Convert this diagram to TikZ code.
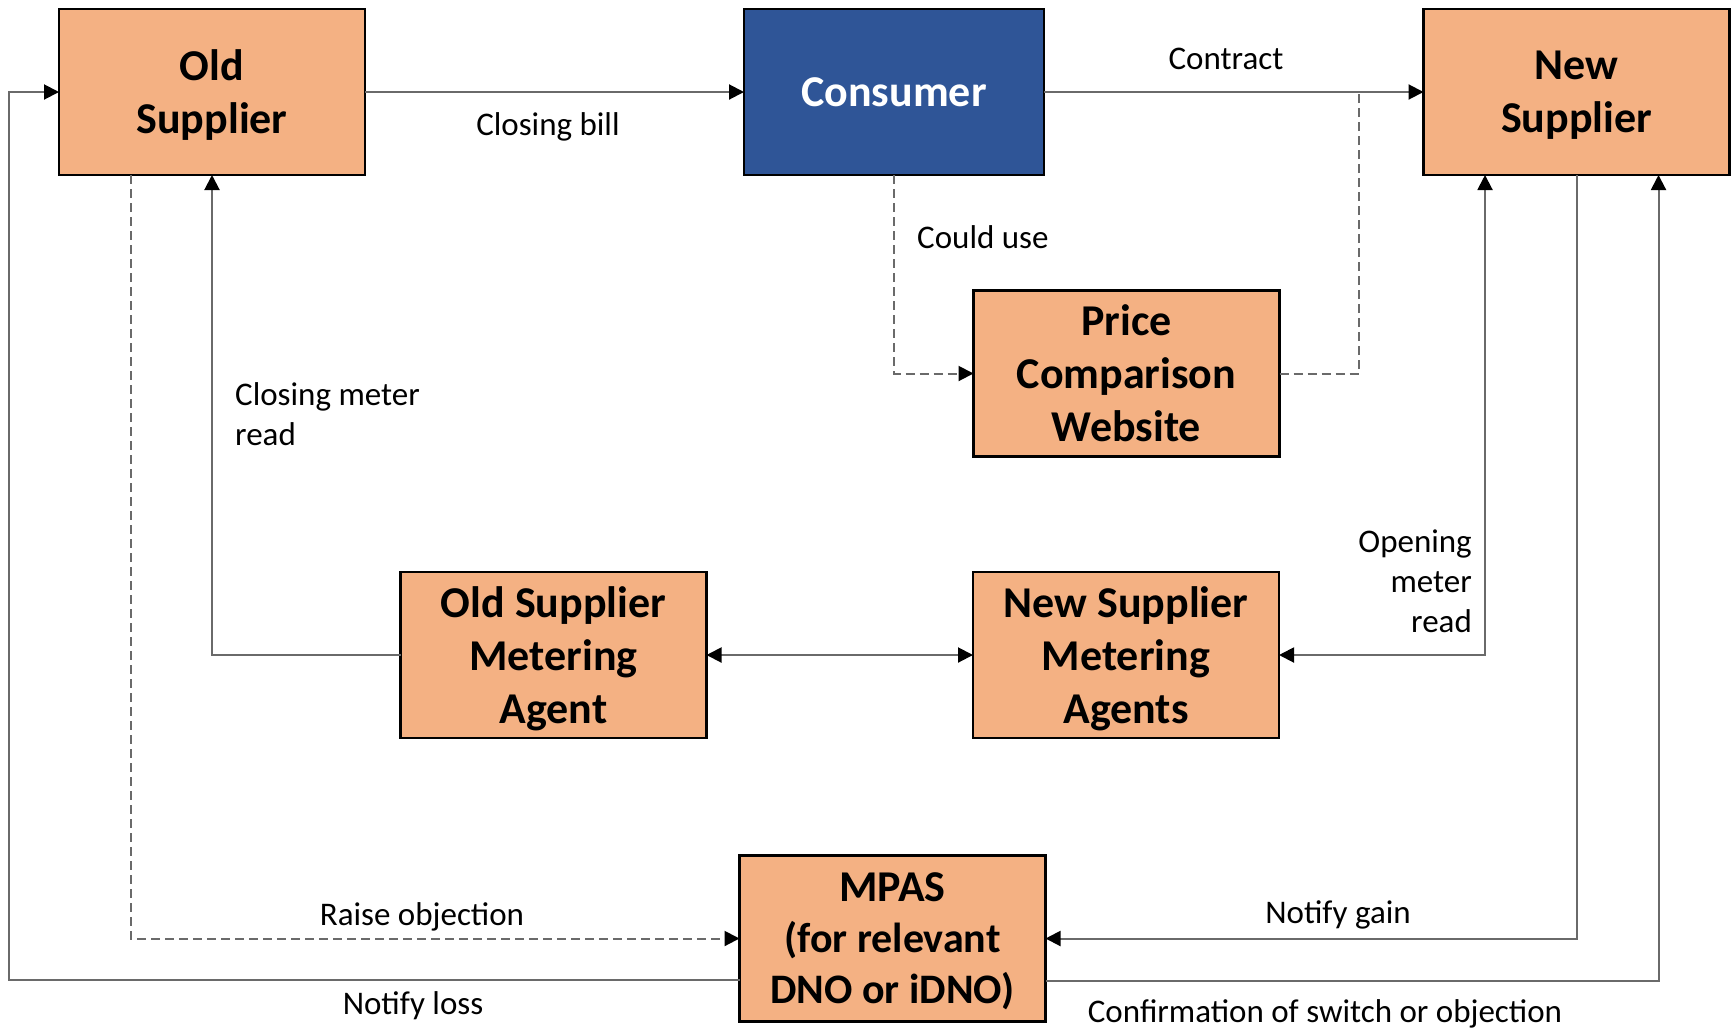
\documentclass[tikz,border=0pt]{standalone}
\usepackage{fontspec}
\setmainfont{Carlito}
\usetikzlibrary{arrows.meta}
\definecolor{boxfill}{HTML}{F4B183}
\definecolor{consblue}{HTML}{2F5597}
\definecolor{linegray}{HTML}{6A6A6A}
\tikzset{
  party/.style={draw=black, line width=2.5pt, fill=boxfill,
    minimum width=306pt, minimum height=166pt, inner sep=0pt, outer sep=0pt,
    align=center, font=\fontsize{44}{53}\selectfont\bfseries},
  stack/.style={party, text depth=0pt},
  flow/.style={draw=linegray, line width=2pt,
    -{Triangle[length=15pt,width=15pt,color=black]}},
  twoway/.style={draw=linegray, line width=2pt,
    {Triangle[length=15pt,width=15pt,color=black]}-{Triangle[length=15pt,width=15pt,color=black]}},
  dflow/.style={draw=linegray, line width=2pt, dash pattern=on 9pt off 5pt,
    -{Triangle[length=15pt,width=15pt,color=black]}},
  dlink/.style={draw=linegray, line width=2pt, dash pattern=on 9pt off 5pt},
  lbl/.style={font=\fontsize{33}{40}\selectfont, inner sep=0pt, text=black}
}
\begin{document}
\begin{tikzpicture}[x=1pt, y=-1pt]
\useasboundingbox (0,0) rectangle (1736,1029);

% parties
\node[stack] (oldsup)   at (212,92)      {Old\\Supplier};
\node[party, fill=consblue, text=white, minimum width=300pt, text depth=-1pt] (consumer) at (894,92) {Consumer};
\node[stack] (newsup)   at (1576.5,92)   {New\\Supplier};
\node[stack] (pcw)      at (1126.5,373.5){Price\\Comparison\\Website};
\node[stack] (osma)     at (553.5,655)   {Old Supplier\\Metering\\Agent};
\node[stack] (nsma)     at (1126,655)    {New Supplier\\Metering\\Agents};
\node[stack, font=\fontsize{42}{51}\selectfont\bfseries] (mpas) at (892.5,938.5)
  {{\fontsize{44}{51}\selectfont MPAS}\\(for relevant\\DNO or iDNO)};

% top row
\draw[flow] (oldsup.east) -- (consumer.west);
\draw[flow] (consumer.east) -- (newsup.west);
\coordinate (pcwjoin) at (1359,92);
\draw[dflow] (consumer.south) |- (pcw.west);
\draw[dlink] (pcw.east) -| (pcwjoin);

% metering agents
\draw[twoway] (osma.east) -- (nsma.west);
\draw[flow] (osma.west) -| (oldsup.south);
\draw[twoway] (nsma.east) -| ([xshift=-91.5pt]newsup.south);

% MPAS messages
\draw[dflow] ([xshift=-81.5pt]oldsup.south) |- (mpas.west);
\draw[flow] ([yshift=-41pt]mpas.west) -| ([xshift=-50pt]oldsup.west) -- (oldsup.west);
\draw[flow] (newsup.south) |- (mpas.east);
\draw[flow] ([yshift=-42pt]mpas.east) -| ([xshift=82pt]newsup.south);

% labels (multi-line labels are anchored at their last line)
\node[lbl, anchor=base] (lclose) at (548,135) {Closing bill};
\node[lbl, anchor=base] (lcontract) at (1226,69) {Contract};
\node[lbl, anchor=base west] (lcould) at (917,248) {Could use};
\node[lbl, anchor=base west, align=left] (lcmr) at (235,445) {Closing meter\\read};
\node[lbl, anchor=base east, align=right] (lomr) at (1472,632) {Opening\\meter\\read};
\node[lbl, anchor=base] (lraise) at (422,925) {Raise objection};
\node[lbl, anchor=base] (lloss) at (413,1014) {Notify loss};
\node[lbl, anchor=base] (lgain) at (1338,923) {Notify gain};
\node[lbl, anchor=base] (lconf) at (1325,1022) {Confirmation of switch or objection};
\end{tikzpicture}
\end{document}
